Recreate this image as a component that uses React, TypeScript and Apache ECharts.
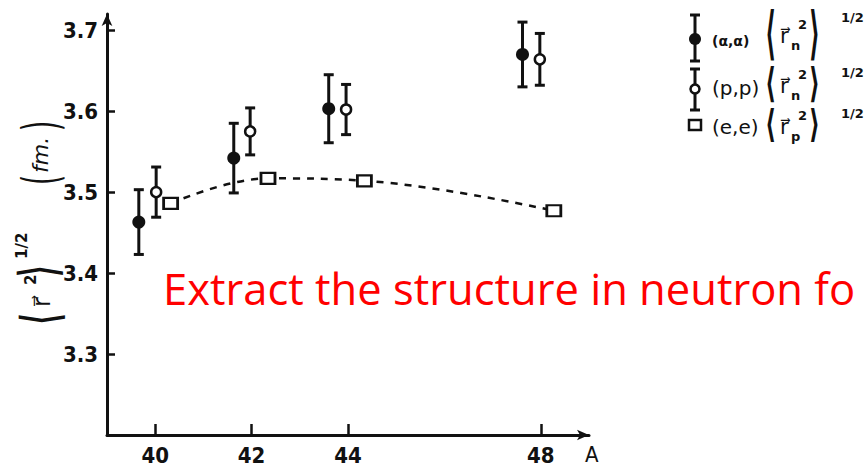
import React, { useEffect, useRef } from "react";
import * as echarts from "echarts";

// Mass numbers and rms radii (fm) with their errors
const alphaA = [39.66, 41.63, 43.6, 47.62];
const alphaR = [3.463, 3.542, 3.603, 3.67];
const alphaErr = [0.04, 0.043, 0.042, 0.04];

const protonA = [40.02, 41.97, 43.96, 47.98];
const protonR = [3.5, 3.575, 3.602, 3.664];
const protonErr = [0.031, 0.029, 0.031, 0.032];

const electronA = [40.32, 42.34, 44.34, 48.27];
const electronR = [3.486, 3.517, 3.514, 3.477];

const xTicks = [40, 42, 44, 48];
const yTicks = [3.3, 3.4, 3.5, 3.6, 3.7];

const INK = "#111";
const LABEL_FONT = "'DejaVu Sans Condensed', 'DejaVu Sans', sans-serif";
const MATH_FONT = "'DejaVu Sans', 'Noto Sans', sans-serif";

function txt(
  text: string,
  x: number,
  y: number,
  fontSize: number,
  extra: Record<string, any> = {},
  styleExtra: Record<string, any> = {}
) {
  return {
    type: "text",
    x,
    y,
    ...extra,
    style: {
      text,
      fill: INK,
      fontSize,
      fontFamily: MATH_FONT,
      align: "left",
      verticalAlign: "middle",
      ...styleExtra,
    },
  };
}

// <r_sub^2>^(1/2) as used in the key
function keyExpr(sub: string, x: number, y: number, stretch: number, powY: number) {
  return {
    type: "group",
    x,
    y,
    children: [
      txt("\u27E8", 0, 0, 24, { scaleY: stretch }, { fontWeight: "bold" }),
      txt("r\u20D7", 15, 3, 21),
      txt(sub, 26, 12, 13, {}, { fontWeight: "bold" }),
      txt("2", 33, -9, 13, {}, { fontWeight: "bold" }),
      txt("\u27E9", 44, 0, 24, { scaleY: stretch }, { fontWeight: "bold" }),
      txt("1/2", 76, powY, 13, {}, { fontWeight: "bold" }),
    ],
  };
}

function errorBarSeries(a: number[], r: number[], e: number[], name: string) {
  return {
    type: "custom",
    name,
    z: 2,
    data: a.map((v, i) => [v, r[i] - e[i], r[i] + e[i]]),
    encode: { x: 0, y: [1, 2] },
    renderItem: (_p: any, api: any) => {
      const x = api.value(0);
      const lo = api.coord([x, api.value(1)]);
      const hi = api.coord([x, api.value(2)]);
      const w = 5;
      const st = { stroke: INK, lineWidth: 3 };
      return {
        type: "group",
        children: [
          { type: "line", shape: { x1: lo[0], y1: lo[1], x2: hi[0], y2: hi[1] }, style: st },
          { type: "line", shape: { x1: lo[0] - w, y1: lo[1], x2: lo[0] + w, y2: lo[1] }, style: st },
          { type: "line", shape: { x1: hi[0] - w, y1: hi[1], x2: hi[0] + w, y2: hi[1] }, style: st },
        ],
      };
    },
  };
}

export default function App() {
  const ref = useRef<HTMLDivElement>(null);

  useEffect(() => {
    if (!ref.current) return;
    const chart = echarts.init(ref.current, null, { renderer: "svg" });

    const axisLabel = {
      color: INK,
      fontSize: 22,
      fontFamily: LABEL_FONT,
      fontWeight: "bold",
    };

    chart.setOption({
      animation: false,
      backgroundColor: "#fff",
      grid: {
        left: 107,
        right: 276,
        top: 14,
        bottom: 31,
        containLabel: false,
        outerBoundsMode: "none",
      },
      xAxis: {
        type: "value",
        min: 39,
        max: 49,
        name: "A",
        nameLocation: "end",
        nameGap: -4,
        nameTextStyle: {
          color: INK,
          fontSize: 22,
          fontFamily: LABEL_FONT,
          verticalAlign: "top",
          padding: [8, 0, 0, 0],
        },
        axisLine: {
          lineStyle: { color: INK, width: 3 },
          symbol: ["none", "arrow"],
          symbolSize: [8, 12],
        },
        axisTick: {
          inside: true,
          length: 11,
          customValues: xTicks,
          lineStyle: { color: INK, width: 2.5 },
        },
        axisLabel: { ...axisLabel, customValues: xTicks, margin: 9 },
        splitLine: { show: false },
      },
      yAxis: {
        type: "value",
        min: 3.2,
        max: 3.72,
        axisLine: {
          show: true,
          lineStyle: { color: INK, width: 3 },
          symbol: ["none", "arrow"],
          symbolSize: [8, 12],
        },
        axisTick: {
          show: true,
          inside: true,
          length: 8,
          customValues: yTicks,
          lineStyle: { color: INK, width: 2.5 },
        },
        axisLabel: {
          ...axisLabel,
          customValues: yTicks,
          margin: 9,
          formatter: (v: number) => v.toFixed(1),
        },
        splitLine: { show: false },
      },
      series: [
        errorBarSeries(alphaA, alphaR, alphaErr, "(α,α) bars"),
        errorBarSeries(protonA, protonR, protonErr, "(p,p) bars"),
        {
          type: "line",
          name: "(e,e)",
          z: 3,
          data: electronA.map((a, i) => [a, electronR[i]]),
          smooth: 0.4,
          symbol: "rect",
          symbolSize: [14, 11],
          showSymbol: true,
          lineStyle: { color: INK, width: 2.5, type: [7, 7] },
          itemStyle: { color: "#fff", borderColor: INK, borderWidth: 2.5 },
        },
        {
          type: "scatter",
          name: "(α,α)",
          z: 4,
          data: alphaA.map((a, i) => [a, alphaR[i]]),
          symbol: "circle",
          symbolSize: 13,
          itemStyle: { color: INK, opacity: 1 },
        },
        {
          type: "scatter",
          name: "(p,p)",
          z: 4,
          data: protonA.map((a, i) => [a, protonR[i]]),
          symbol: "circle",
          symbolSize: 10,
          itemStyle: { color: "#fff", borderColor: INK, borderWidth: 2.5, opacity: 1 },
        },
      ],
      graphic: [
        // y-axis title, reading bottom to top
        {
          type: "group",
          x: 40,
          y: 322,
          rotation: Math.PI / 2,
          children: [
            txt("\u27E8", -3, 0, 26, { scaleY: 2.0 }, { fontWeight: "bold" }),
            txt("r\u20D7", 15, 2, 24),
            txt("2", 37, -9, 15, {}, { fontWeight: "bold" }),
            txt("\u27E9", 45, -2, 26, { scaleY: 2.0 }, { fontWeight: "bold" }),
            txt("1/2", 63, -18, 15, {}, { fontWeight: "bold" }),
            txt("(", 137, 0, 26, { scaleY: 1.9 }),
            txt("fm.", 149, 0, 22, {}, { fontStyle: "italic" }),
            txt(")", 191, 0, 26, { scaleY: 1.9 }),
          ],
        },
        // key
        { type: "line", shape: { x1: 695, y1: 15, x2: 695, y2: 61 }, style: { stroke: INK, lineWidth: 3 } },
        { type: "line", shape: { x1: 690, y1: 15, x2: 700, y2: 15 }, style: { stroke: INK, lineWidth: 3 } },
        { type: "line", shape: { x1: 690, y1: 61, x2: 700, y2: 61 }, style: { stroke: INK, lineWidth: 3 } },
        { type: "circle", shape: { cx: 695, cy: 39, r: 6 }, style: { fill: INK } },
        txt("(α,α)", 712, 41, 14, {}, { fontWeight: "bold" }),
        keyExpr("n", 765, 33, 2.4, -16),

        { type: "line", shape: { x1: 695, y1: 69, x2: 695, y2: 110 }, style: { stroke: INK, lineWidth: 3 } },
        { type: "line", shape: { x1: 690, y1: 69, x2: 700, y2: 69 }, style: { stroke: INK, lineWidth: 3 } },
        { type: "line", shape: { x1: 690, y1: 110, x2: 700, y2: 110 }, style: { stroke: INK, lineWidth: 3 } },
        { type: "circle", z: 5, shape: { cx: 695, cy: 89, r: 4.5 }, style: { fill: "#fff", stroke: INK, lineWidth: 2.5 } },
        txt("(p,p)", 712, 88, 20),
        keyExpr("n", 765, 83, 1.7, -11),

        { type: "rect", shape: { x: 689, y: 120, width: 12, height: 10 }, style: { fill: "#fff", stroke: INK, lineWidth: 2.5 } },
        txt("(e,e)", 712, 127, 20),
        keyExpr("p", 765, 124, 1.6, -11),

        // annotation
        txt(
          "Extract the structure in neutron fo",
          163,
          288,
          43.5,
          {},
          { fill: "#ff0000", fontFamily: "'Comic Sans MS', 'Open Sans', 'Noto Sans', sans-serif" }
        ),
      ],
    });

    return () => chart.dispose();
  }, []);

  return (
    <div
      ref={ref}
      style={{ position: "fixed", left: 0, top: 0, width: 865, height: 466 }}
    />
  );
}
